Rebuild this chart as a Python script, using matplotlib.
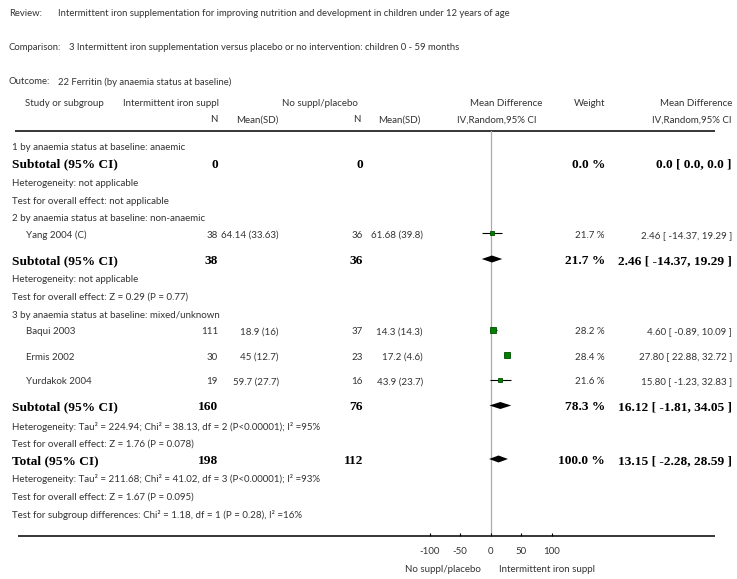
import numpy as np
import matplotlib.pyplot as plt

plt.rcParams['font.family'] = ['Lato', 'DejaVu Sans']

# study rows
studies = ['Yang 2004 (C)', 'Baqui 2003', 'Ermis 2002', 'Yurdakok 2004']
study_group = [1, 2, 2, 2]
n_iron = [38, 111, 30, 19]
mean_iron = [64.14, 18.9, 45, 59.7]
sd_iron = [33.63, 16, 12.7, 27.7]
n_ctrl = [36, 37, 23, 16]
mean_ctrl = [61.68, 14.3, 17.2, 43.9]
sd_ctrl = [39.8, 14.3, 4.6, 23.7]
md = [2.46, 4.60, 27.80, 15.80]
md_lo = [-14.37, -0.89, 22.88, -1.23]
md_hi = [19.29, 10.09, 32.72, 32.83]
weight = [21.7, 28.2, 28.4, 21.6]

# subgroups
sub_names = ['1 by anaemia status at baseline: anaemic',
             '2 by anaemia status at baseline: non-anaemic',
             '3 by anaemia status at baseline: mixed/unknown']
sub_n_iron = [0, 38, 160]
sub_n_ctrl = [0, 36, 76]
sub_weight = [0.0, 21.7, 78.3]
sub_md = [0.0, 2.46, 16.12]
sub_lo = [0.0, -14.37, -1.81]
sub_hi = [0.0, 19.29, 34.05]
sub_het = ['Heterogeneity: not applicable',
           'Heterogeneity: not applicable',
           'Heterogeneity: Tau² = 224.94; Chi² = 38.13, df = 2 (P<0.00001); I² =95%']
sub_test = ['Test for overall effect: not applicable',
            'Test for overall effect: Z = 0.29 (P = 0.77)',
            'Test for overall effect: Z = 1.76 (P = 0.078)']

# total
tot_n_iron = 198
tot_n_ctrl = 112
tot_weight = 100.0
tot_md = 13.15
tot_lo = -2.28
tot_hi = 28.59
tot_lines = ['Heterogeneity: Tau² = 211.68; Chi² = 41.02, df = 3 (P<0.00001); I² =93%',
             'Test for overall effect: Z = 1.67 (P = 0.095)',
             'Test for subgroup differences: Chi² = 1.18, df = 1 (P = 0.28), I² =16%']

xticks = [-100, -50, 0, 50, 100]
favours = ['No suppl/placebo', 'Intermittent iron suppl']

titles = [('Review:', 'Intermittent iron supplementation for improving nutrition and development in children under 12 years of age'),
          ('Comparison:', '3 Intermittent iron supplementation versus placebo or no intervention: children 0 - 59 months'),
          ('Outcome:', '22 Ferritin (by anaemia status at baseline)')]

# layout (pixels)
W, H = 737, 579
GREY = '#333333'
FS = 7.0
BFS = 9.6
serif_b = dict(family='Liberation Serif', weight='bold', fontsize=BFS, color='black', va='center')
col_n1, col_m1, col_n2, col_m2 = 218, 279, 363, 423
col_w, col_ci = 605, 732
zero_px, px_per_unit = 490.5, 0.61
line_top, line_bot = 131, 535.5

fig = plt.figure(figsize=(W / 100, H / 100), dpi=100)
ax = fig.add_axes([0, 0, 1, 1])
ax.set_xlim(0, W)
ax.set_ylim(H, 0)
ax.axis('off')

half = 110
axf = fig.add_axes([(zero_px - half) / W, (H - line_bot) / H, 2 * half / W, (line_bot - line_top) / H])
axf.set_xlim(-half / px_per_unit, half / px_per_unit)
axf.set_ylim(line_bot, line_top)
axf.set_facecolor('none')
for s in axf.spines.values():
    s.set_visible(False)
axf.set_yticks([])
axf.set_xticks(xticks)
axf.set_xticklabels([str(t) for t in xticks], fontsize=FS, color=GREY)
axf.tick_params(axis='x', direction='in', length=2.5, width=0.8, pad=8)
axf.axvline(0, color='#aaaaaa', lw=0.9, zorder=1)

# titles
for i, (lab, txt) in enumerate(titles):
    y = 14 + 34 * i
    ax.text(9, y, lab, fontsize=6.85, color=GREY, va='center')
    ax.text(69 if lab == 'Comparison:' else 58, y, txt, fontsize=6.85, color=GREY, va='center')

# header
hy1, hy2 = 103, 120
ax.text(25, hy1, 'Study or subgroup', fontsize=FS, color=GREY, va='center')
ax.text(123, hy1, 'Intermittent iron suppl', fontsize=FS, color=GREY, va='center')
ax.text(358, hy1, 'No suppl/placebo', fontsize=FS, color=GREY, va='center', ha='right')
ax.text(542, hy1, 'Mean Difference', fontsize=FS, color=GREY, va='center', ha='right')
ax.text(col_w, hy1, 'Weight', fontsize=FS, color=GREY, va='center', ha='right')
ax.text(col_ci, hy1, 'Mean Difference', fontsize=FS, color=GREY, va='center', ha='right')
ax.text(col_n1, hy2, 'N', fontsize=FS, color=GREY, va='center', ha='right')
ax.text(col_m1, hy2, 'Mean(SD)', fontsize=FS, color=GREY, va='center', ha='right')
ax.text(col_n2 - 2, hy2, 'N', fontsize=FS, color=GREY, va='center', ha='right')
ax.text(col_m2 - 2, hy2, 'Mean(SD)', fontsize=FS, color=GREY, va='center', ha='right')
ax.text(537, hy2, 'IV,Random,95% CI', fontsize=FS, color=GREY, va='center', ha='right')
ax.text(col_ci, hy2, 'IV,Random,95% CI', fontsize=FS, color=GREY, va='center', ha='right')
ax.plot([15, 715], [line_top, line_top], color='black', lw=1.1, solid_capstyle='butt')
ax.plot([18, 715], [line_bot, line_bot], color='black', lw=1.1, solid_capstyle='butt')


def small(x, y, s, ha='left'):
    ax.text(x, y, s, fontsize=FS, color=GREY, va='center', ha=ha)


def diamond(y, c, lo, hi):
    h = 3.5
    axf.fill([lo, c, hi, c], [y, y - h, y, y + h], color='black', lw=0, zorder=3)


y = 147.5
for g in range(3):
    small(12, y, sub_names[g])
    idx = [i for i in range(len(studies)) if study_group[i] == g]
    for k, i in enumerate(idx):
        y += 17 if k == 0 else 25
        small(26, y, studies[i])
        small(col_n1, y, str(n_iron[i]), 'right')
        small(col_m1, y, f'{mean_iron[i]:g} ({sd_iron[i]:g})', 'right')
        small(col_n2, y, str(n_ctrl[i]), 'right')
        small(col_m2, y, f'{mean_ctrl[i]:g} ({sd_ctrl[i]:g})', 'right')
        small(col_w, y, f'{weight[i]:.1f} %', 'right')
        small(col_ci, y, f'{md[i]:.2f} [ {md_lo[i]:.2f}, {md_hi[i]:.2f} ]', 'right')
        axf.hlines(y - 2, md_lo[i], md_hi[i], color='black', lw=0.8, zorder=3)
        ms = weight[i] * 0.23 * 0.72
        axf.plot(md[i], y - 2, 's', ms=ms, mfc='#008000', mec='#004d00', mew=0.6, zorder=4)
    y += 25.5 if idx else 17
    ax.text(12, y, 'Subtotal (95% CI)', ha='left', **serif_b)
    ax.text(col_n1, y, str(sub_n_iron[g]), ha='right', **serif_b)
    ax.text(col_n2, y, str(sub_n_ctrl[g]), ha='right', **serif_b)
    ax.text(col_w, y, f'{sub_weight[g]:.1f} %', ha='right', **serif_b)
    if sub_weight[g] == 0:
        ci = f'{sub_md[g]:.1f} [ {sub_lo[g]:.1f}, {sub_hi[g]:.1f} ]'
    else:
        ci = f'{sub_md[g]:.2f} [ {sub_lo[g]:.2f}, {sub_hi[g]:.2f} ]'
        diamond(y - 2, sub_md[g], sub_lo[g], sub_hi[g])
    ax.text(col_ci, y, ci, ha='right', **serif_b)
    y += 19
    small(12, y, sub_het[g])
    y += 17.5
    small(12, y, sub_test[g])
    y += 17.5 if g < 2 else 17

# total
ax.text(12, y, 'Total (95% CI)', ha='left', **serif_b)
ax.text(col_n1, y, str(tot_n_iron), ha='right', **serif_b)
ax.text(col_n2, y, str(tot_n_ctrl), ha='right', **serif_b)
ax.text(col_w, y, f'{tot_weight:.1f} %', ha='right', **serif_b)
ax.text(col_ci, y, f'{tot_md:.2f} [ {tot_lo:.2f}, {tot_hi:.2f} ]', ha='right', **serif_b)
diamond(y - 2, tot_md, tot_lo, tot_hi)
y += 18.5
for t in tot_lines:
    small(12, y, t)
    y += 17.5

# favours labels
small(443, 569, favours[0], 'center')
small(547, 569, favours[1], 'center')

fig.savefig('out.png', dpi=100)
